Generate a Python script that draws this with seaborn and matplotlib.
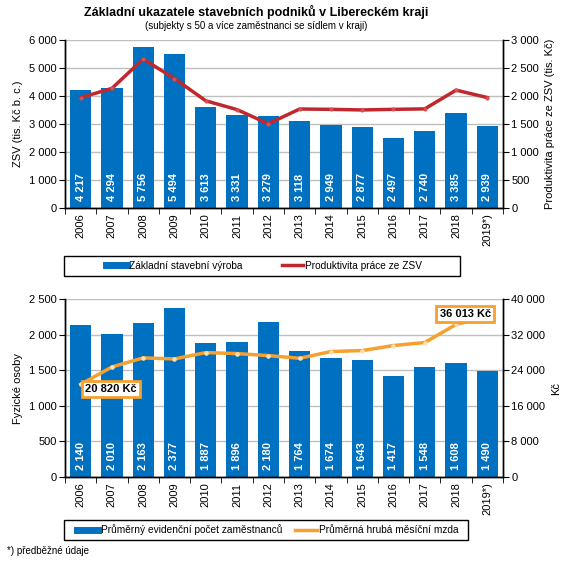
import numpy as np
import pandas as pd
import matplotlib
matplotlib.use("Agg")
import matplotlib.pyplot as plt
from matplotlib.ticker import FuncFormatter, MultipleLocator, FixedLocator
from matplotlib.lines import Line2D
from matplotlib.patches import Rectangle
import seaborn as sns

# data
years = ["2006", "2007", "2008", "2009", "2010", "2011", "2012", "2013",
         "2014", "2015", "2016", "2017", "2018", "2019*)"]
zsv = [4217, 4294, 5756, 5494, 3613, 3331, 3279, 3118, 2949, 2877, 2497, 2740, 3385, 2939]
productivity = [1971, 2136, 2661, 2311, 1915, 1757, 1504, 1768, 1762, 1751, 1762, 1770, 2105, 1972]
employees = [2140, 2010, 2163, 2377, 1887, 1896, 2180, 1764, 1674, 1643, 1417, 1548, 1608, 1490]
wage = [20820, 24740, 26770, 26540, 27970, 27740, 27290, 26690, 28200, 28420, 29550, 30230, 34290, 36013]

BLUE = "#0070C0"
RED = "#C0282D"
ORANGE = "#F5A02F"

plt.rcParams["font.family"] = ["Liberation Sans", "DejaVu Sans"]
plt.rcParams["font.size"] = 8

fmt = FuncFormatter(lambda v, p: f"{v:,.0f}".replace(",", " "))

df_top = pd.DataFrame({"rok": years, "zsv": zsv, "prod": productivity})
df_bot = pd.DataFrame({"rok": years, "osoby": employees, "mzda": wage})

fig = plt.figure(figsize=(5.69, 5.62), dpi=100)
ax1 = fig.add_axes([0.1142, 0.6299, 0.7698, 0.2989])
ax3 = fig.add_axes([0.1142, 0.1512, 0.7698, 0.3167])


def style_axes(ax, ax2, ymax, ystep, y2max, y2step):
    n = len(years)
    ax.set_xlim(-0.5, n - 0.5)
    ax.set_ylim(0, ymax)
    ax.yaxis.set_major_locator(MultipleLocator(ystep))
    ax.yaxis.set_major_formatter(fmt)
    ax.set_axisbelow(True)
    ax.grid(axis="y", color="#BFBFBF", lw=1)
    ax.grid(axis="x", visible=False)
    ax.set_xticks(range(n))
    ax.set_xticklabels(years, rotation=90)
    ax.xaxis.set_minor_locator(FixedLocator(np.arange(-0.5, n, 1)))
    ax.tick_params(axis="x", which="major", length=0, pad=4)
    ax.tick_params(axis="x", which="minor", length=4, color="black")
    ax.tick_params(axis="y", length=4, pad=2)
    ax.set_xlabel("")
    ax2.set_ylim(0, y2max)
    ax2.yaxis.set_major_locator(MultipleLocator(y2step))
    ax2.yaxis.set_major_formatter(fmt)
    ax2.tick_params(axis="y", length=4, pad=2)
    for a in (ax, ax2):
        a.spines["top"].set_visible(False)
        for s in ("left", "right", "bottom"):
            a.spines[s].set_color("black")
            a.spines[s].set_linewidth(1)


def bar_labels(ax, values):
    for i, v in enumerate(values):
        ax.annotate(f"{v:,}".replace(",", " "), (i, 0), xytext=(0, 5),
                    textcoords="offset points", rotation=90, ha="center",
                    va="bottom", color="white", fontweight="bold", fontsize=8)


def legend_box(handles, labels, x0, x1, y0, y1, cx, colsp):
    W, H = 569.0, 562.0
    fig.add_artist(Rectangle((x0 / W, 1 - y1 / H), (x1 - x0) / W, (y1 - y0) / H,
                             transform=fig.transFigure, fill=False,
                             ec="black", lw=1))
    fig.legend(handles, labels, loc="center",
               bbox_to_anchor=(cx / W, 1 - (y0 + y1) / 2 / H),
               ncol=2, frameon=False, handlelength=2.1, handletextpad=0.25,
               columnspacing=colsp, borderpad=0, fontsize=7.3)


# top chart
sns.barplot(data=df_top, x="rok", y="zsv", color=BLUE, saturation=1,
            width=0.68, ax=ax1)
ax2 = ax1.twinx()
sns.lineplot(x=np.arange(len(years)), y=df_top["prod"], ax=ax2, color=RED,
             lw=2.5, marker="o", markersize=2.2, markerfacecolor="#D85050",
             markeredgecolor="#D85050")
style_axes(ax1, ax2, 6000, 1000, 3000, 500)
bar_labels(ax1, zsv)
ax1.set_ylabel("ZSV (tis. Kč b. c.)", labelpad=4)
ax2.set_ylabel("Produktivita práce ze ZSV (tis. Kč)", labelpad=4)

# bottom chart
sns.barplot(data=df_bot, x="rok", y="osoby", color=BLUE, saturation=1,
            width=0.68, ax=ax3)
ax4 = ax3.twinx()
sns.lineplot(x=np.arange(len(years)), y=df_bot["mzda"], ax=ax4, color=ORANGE,
             lw=2.5, marker="o", markersize=2.5, markerfacecolor="#FFE0B0",
             markeredgecolor="#FFE0B0")
style_axes(ax3, ax4, 2500, 500, 40000, 8000)
bar_labels(ax3, employees)
ax3.set_ylabel("Fyzické osoby", labelpad=4)
ax4.set_ylabel("Kč", labelpad=4)

box = dict(boxstyle="square,pad=0.3", fc="white", ec=ORANGE, lw=2)
ax4.annotate("20 820 Kč", (0, wage[0]), xytext=(22, -3.3), textcoords="offset points",
             ha="center", va="center", fontweight="bold", fontsize=8, bbox=box)
ax4.annotate("36 013 Kč", (13, wage[-1]), xytext=(-16, 2), textcoords="offset points",
             ha="center", va="center", fontweight="bold", fontsize=8, bbox=box)

# legends
h_top = [Line2D([], [], color=BLUE, lw=5), Line2D([], [], color=RED, lw=2.5)]
legend_box(h_top, ["Základní stavební výroba", "Produktivita práce ze ZSV"],
           64, 460, 256, 276, 264, 3.8)
h_bot = [Line2D([], [], color=BLUE, lw=5), Line2D([], [], color=ORANGE, lw=2.5)]
legend_box(h_bot, ["Průměrný evidenční počet zaměstnanců", "Průměrná hrubá měsíční mzda"],
           64, 468, 520, 540, 268, 1.3)

fig.text(0.451, 0.979, "Základní ukazatele stavebních podniků v Libereckém kraji",
         ha="center", va="center", fontsize=9, fontweight="bold")
fig.text(0.451, 0.954, "(subjekty s 50 a více zaměstnanci se sídlem v kraji)",
         ha="center", va="center", fontsize=7)
fig.text(0.012, 0.019, "*) předběžné údaje", ha="left", va="center", fontsize=7)

fig.savefig("out.png", dpi=100)
